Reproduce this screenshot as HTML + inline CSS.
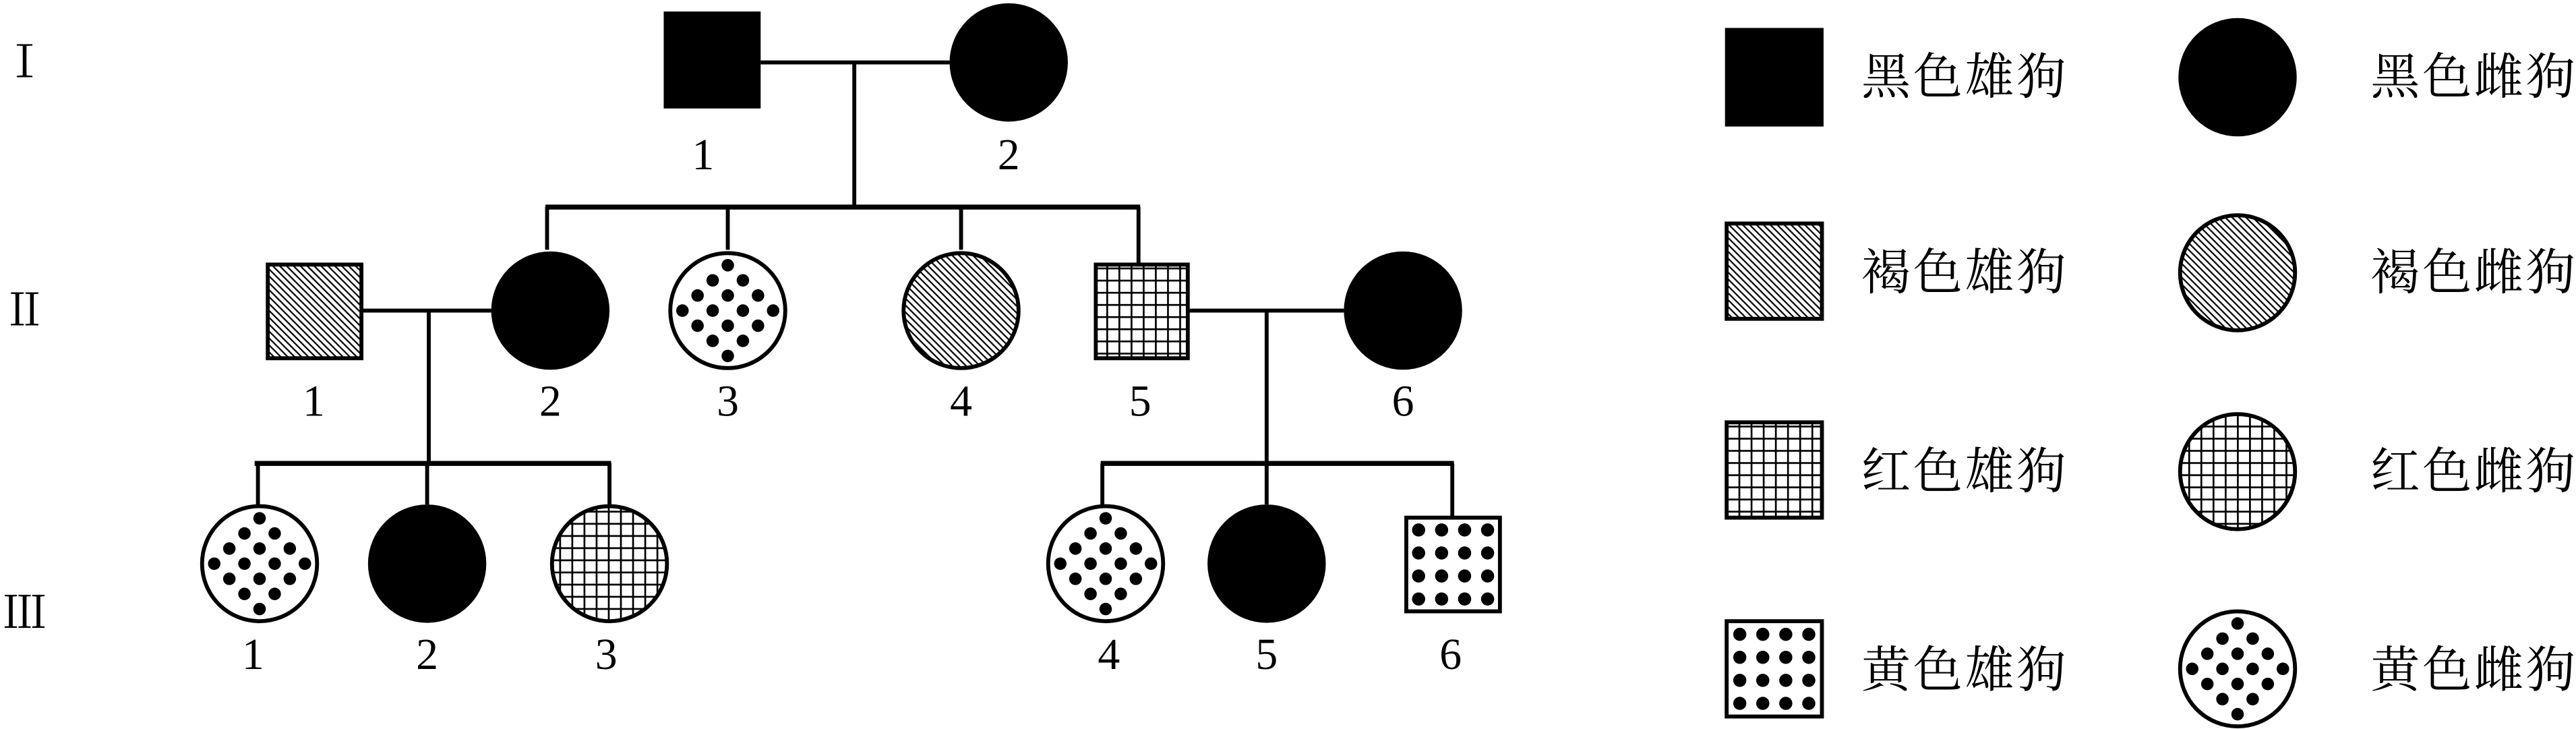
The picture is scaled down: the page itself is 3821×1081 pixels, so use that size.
<!DOCTYPE html>
<html><head><meta charset="utf-8"><style>
html,body{margin:0;padding:0;background:#fff;}
svg{display:block;}
</style></head><body>
<svg width="3821" height="1081" viewBox="0 0 1568 443.6" preserveAspectRatio="none" xmlns="http://www.w3.org/2000/svg">
<defs>
<pattern id="hatch" patternUnits="userSpaceOnUse" width="4.2" height="4.2">
<rect width="4.2" height="4.2" fill="#fff"/>
<path d="M-1,-1 L5.2,5.2 M-1,3.2 L1,5.2 M3.2,-1 L5.2,1" stroke="#000" stroke-width="0.9"/>
</pattern>
<pattern id="grid" patternUnits="userSpaceOnUse" width="7.4" height="7.4">
<rect width="7.4" height="7.4" fill="#fff"/>
<path d="M0,0 V7.4 M0,0 H7.4" stroke="#000" stroke-width="2.2"/>
</pattern>
<g id="ydots" fill="#000">
<circle cx="0" cy="-27.6" r="3.8"/>
<circle cx="-9.2" cy="-18.4" r="3.8"/><circle cx="9.2" cy="-18.4" r="3.8"/>
<circle cx="-18.4" cy="-9.2" r="3.8"/><circle cx="0" cy="-9.2" r="3.8"/><circle cx="18.4" cy="-9.2" r="3.8"/>
<circle cx="-27.6" cy="0" r="3.8"/><circle cx="-9.2" cy="0" r="3.8"/><circle cx="9.2" cy="0" r="3.8"/><circle cx="27.6" cy="0" r="3.8"/>
<circle cx="-18.4" cy="9.2" r="3.8"/><circle cx="0" cy="9.2" r="3.8"/><circle cx="18.4" cy="9.2" r="3.8"/>
<circle cx="-9.2" cy="18.4" r="3.8"/><circle cx="9.2" cy="18.4" r="3.8"/>
<circle cx="0" cy="27.6" r="3.8"/>
</g>
<g id="sdots" fill="#000">
<circle cx="-21" cy="-21" r="4"/><circle cx="-7" cy="-21" r="4"/><circle cx="7" cy="-21" r="4"/><circle cx="21" cy="-21" r="4"/>
<circle cx="-21" cy="-7" r="4"/><circle cx="-7" cy="-7" r="4"/><circle cx="7" cy="-7" r="4"/><circle cx="21" cy="-7" r="4"/>
<circle cx="-21" cy="7" r="4"/><circle cx="-7" cy="7" r="4"/><circle cx="7" cy="7" r="4"/><circle cx="21" cy="7" r="4"/>
<circle cx="-21" cy="21" r="4"/><circle cx="-7" cy="21" r="4"/><circle cx="7" cy="21" r="4"/><circle cx="21" cy="21" r="4"/>
</g>
</defs>

<g stroke="#000" stroke-width="2.4" fill="none">
<line x1="463" y1="38" x2="578" y2="38"/>
<line x1="520" y1="38" x2="520" y2="127"/>
<line x1="332" y1="126" x2="694" y2="126" stroke-width="3"/>
<line x1="333" y1="126" x2="333" y2="152"/>
<line x1="443" y1="126" x2="443" y2="152"/>
<line x1="585" y1="126" x2="585" y2="152"/>
<line x1="693" y1="126" x2="693" y2="160"/>
<line x1="220" y1="189" x2="299" y2="189"/>
<line x1="261" y1="189" x2="261" y2="282"/>
<line x1="155" y1="282" x2="372" y2="282" stroke-width="3"/>
<line x1="157" y1="282" x2="157" y2="307"/>
<line x1="260" y1="282" x2="260" y2="307"/>
<line x1="371" y1="282" x2="371" y2="307"/>
<line x1="723" y1="189" x2="818" y2="189"/>
<line x1="771" y1="189" x2="771" y2="282"/>
<line x1="670" y1="282" x2="885" y2="282" stroke-width="3"/>
<line x1="671" y1="282" x2="671" y2="307"/>
<line x1="771" y1="282" x2="771" y2="307"/>
<line x1="884" y1="282" x2="884" y2="314"/>
</g>

<rect x="404" y="7" width="59" height="59" fill="#000"/>
<circle cx="614" cy="38" r="36" fill="#000"/>

<rect x="163" y="161" width="57" height="57" fill="url(#hatch)" stroke="#000" stroke-width="2.4"/>
<circle cx="335" cy="189" r="36" fill="#000"/>
<circle cx="443" cy="189" r="35" fill="#fff" stroke="#000" stroke-width="2.4"/>
<use href="#ydots" x="443" y="189"/>
<circle cx="585" cy="189" r="35" fill="url(#hatch)" stroke="#000" stroke-width="2.4"/>
<rect x="667" y="161" width="56" height="57" fill="url(#grid)" stroke="#000" stroke-width="2.4"/>
<circle cx="854" cy="189" r="36" fill="#000"/>

<circle cx="158" cy="343" r="35" fill="#fff" stroke="#000" stroke-width="2.4"/>
<use href="#ydots" x="158" y="343"/>
<circle cx="260" cy="343" r="36" fill="#000"/>
<circle cx="371" cy="343" r="35" fill="url(#grid)" stroke="#000" stroke-width="2.4"/>
<circle cx="673" cy="343" r="35" fill="#fff" stroke="#000" stroke-width="2.4"/>
<use href="#ydots" x="673" y="343"/>
<circle cx="771" cy="343" r="36" fill="#000"/>
<rect x="856" y="315" width="57" height="57" fill="#fff" stroke="#000" stroke-width="2.4"/>
<use href="#sdots" x="884.5" y="343.5"/>

<rect x="1050" y="17" width="60" height="60" fill="#000"/>
<circle cx="1362" cy="47" r="36" fill="#000"/>
<rect x="1051" y="136" width="58" height="58" fill="url(#hatch)" stroke="#000" stroke-width="2.4"/>
<circle cx="1362" cy="166" r="35" fill="url(#hatch)" stroke="#000" stroke-width="2.4"/>
<rect x="1051" y="257" width="58" height="58" fill="url(#grid)" stroke="#000" stroke-width="2.4"/>
<circle cx="1362" cy="287" r="35" fill="url(#grid)" stroke="#000" stroke-width="2.4"/>
<rect x="1051" y="378" width="58" height="58" fill="#fff" stroke="#000" stroke-width="2.4"/>
<use href="#sdots" x="1080" y="407"/>
<circle cx="1362" cy="407" r="35" fill="#fff" stroke="#000" stroke-width="2.4"/>
<use href="#ydots" x="1362" y="407"/>

<g font-family="'Liberation Serif','Noto Serif CJK SC',serif" font-size="27" fill="#000" text-anchor="middle">
<text x="15" y="47">Ⅰ</text>
<text x="15" y="198">Ⅱ</text>
<text x="15" y="382">Ⅲ</text>
<text x="428" y="103">1</text>
<text x="614" y="103">2</text>
<text x="191" y="253">1</text>
<text x="335" y="253">2</text>
<text x="443" y="253">3</text>
<text x="585" y="253">4</text>
<text x="694" y="253">5</text>
<text x="854" y="253">6</text>
<text x="154" y="407">1</text>
<text x="260" y="407">2</text>
<text x="369" y="407">3</text>
<text x="675" y="407">4</text>
<text x="771" y="407">5</text>
<text x="883" y="407">6</text>
</g>
<g font-family="'Liberation Serif','Noto Serif CJK SC',serif" font-size="30" fill="#000" letter-spacing="1.5">
<text x="1133" y="57">黑色雄狗</text>
<text x="1443" y="57">黑色雌狗</text>
<text x="1133" y="176">褐色雄狗</text>
<text x="1443" y="176">褐色雌狗</text>
<text x="1133" y="297">红色雄狗</text>
<text x="1443" y="297">红色雌狗</text>
<text x="1133" y="418">黄色雄狗</text>
<text x="1443" y="418">黄色雌狗</text>
</g>
</svg>
</body></html>
